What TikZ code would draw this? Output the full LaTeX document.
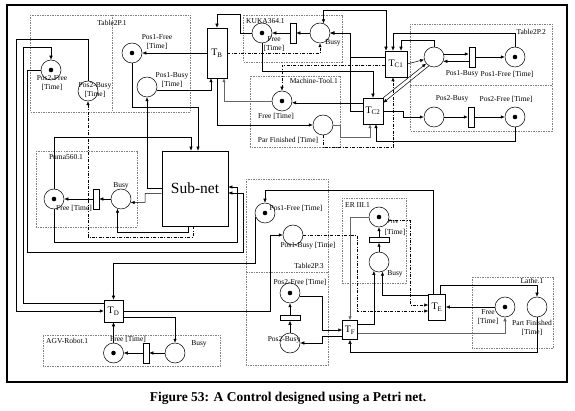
\documentclass[tikz,border=0pt]{standalone}
\usepackage{fontspec}
\setmainfont{Liberation Serif}
\usetikzlibrary{arrows.meta,calc}
\newlength{\du}
\setlength{\du}{1pt}
\tikzset{
  >={Latex[length=4pt,width=3.4pt]},
  place/.style={circle,draw,line width=0.5pt,minimum size=20pt,inner sep=0pt},
  marked/.style={place,path picture={\fill (path picture bounding box.center) circle (2.3pt);}},
  trans/.style={draw,fill=white,line width=0.5pt,inner sep=0pt,font=\fontsize{10}{10}\selectfont},
  vbar/.style={draw,fill=white,line width=0.5pt,minimum width=6pt,minimum height=20pt,inner sep=0pt},
  hbar/.style={draw,fill=white,line width=0.5pt,minimum width=20pt,minimum height=5pt,inner sep=0pt},
  module/.style={draw=black!50,line width=0.4pt,dash pattern=on 1.5pt off 1pt},
  lbl/.style={font=\fontsize{7.5}{9}\selectfont,inner sep=0pt,align=center},
  arc/.style={->,line width=0.5pt},
  arcboth/.style={<->,line width=0.5pt},
  arcgr/.style={arc,draw=black!60},
  arcdd/.style={->,line width=0.5pt,dash pattern=on 3pt off 1.5pt on 0.8pt off 1.5pt}
}

\begin{document}
\begin{tikzpicture}
\pgftransformxscale{1.000000}
\pgftransformyscale{-1.000000}
\useasboundingbox (0\du,0\du) rectangle (575\du,411\du);
\draw[line width=1.6pt] (7\du,5\du) rectangle (567\du,382\du);

% modules
\draw[module] (30\du,15\du) rectangle (190\du,112\du);
\draw[module] (112\du,15\du) -- (112\du,112\du);
\draw[module] (243\du,15\du) rectangle (342\du,62\du);
\draw[module] (250\du,76\du) rectangle (340\du,147\du);
\draw[module] (410\du,24\du) rectangle (552\du,131\du);
\draw[module] (410\du,85\du) -- (552\du,85\du);
\draw[module] (36\du,151\du) rectangle (137\du,227\du);
\draw[module] (246\du,179\du) rectangle (328\du,365\du);
\draw[module] (246\du,272\du) -- (328\du,272\du);
\draw[module] (342\du,198\du) rectangle (406\du,283\du);
\draw[module] (472\du,277\du) rectangle (553\du,348\du);
\draw[module] (43\du,335\du) rectangle (220\du,366\du);

\node[lbl] (mTabA) at (112\du,23\du) {Table2P.1};
\node[lbl,anchor=west] (mKuka) at (246\du,21\du) {KUKA364.1};
\node[lbl,anchor=east] (mTool) at (338\du,81\du) {Machine-Tool.1};
\node[lbl,anchor=east] (mTabB) at (546\du,32\du) {Table2P.2};
\node[lbl] (mPuma) at (66\du,157\du) {Puma560.1};
\node[lbl] (mTabC) at (309\du,266\du) {Table2P.3};
\node[lbl,anchor=west] (mEr) at (345\du,205\du) {ER III.1};
\node[lbl] (mLathe) at (532\du,281\du) {Lathe.1};
\node[lbl,anchor=west] (mAgv) at (46\du,341\du) {AGV-Robot.1};

% places and transitions
\node[marked] (t1p2f) at (51\du,70\du) {};
\node[place] (t1p2b) at (88\du,91\du) {};
\node[marked] (t1p1f) at (132\du,53\du) {};
\node[place] (t1p1b) at (147\du,87\du) {};

\node[marked] (kukaF) at (262\du,33\du) {};
\node[vbar] (kukaBar) at (293\du,33\du) {};
\node[place] (kukaB) at (320\du,33\du) {};

\node[marked] (mtF) at (282\du,101\du) {};
\node[place] (mtP) at (323\du,125\du) {};

\node[place] (t2p1b) at (434\du,57\du) {};
\node[vbar] (t2bar1) at (472\du,57\du) {};
\node[marked] (t2p1f) at (515\du,57\du) {};
\node[place] (t2p2b) at (434\du,117\du) {};
\node[vbar] (t2bar2) at (471\du,117\du) {};
\node[marked] (t2p2f) at (515\du,117\du) {};

\node[marked] (pumaF) at (54\du,199\du) {};
\node[vbar] (pumaBar) at (96\du,199\du) {};
\node[place] (pumaB) at (121\du,199\du) {};

\node[marked] (t3p1f) at (265\du,213\du) {};
\node[place] (t3p1b) at (293\du,235\du) {};
\node[marked] (t3p2f) at (290\du,293\du) {};
\node[hbar] (t3bar) at (290\du,318\du) {};
\node[place] (t3p2b) at (290\du,343\du) {};

\node[marked] (erF) at (379\du,217\du) {};
\node[hbar] (erBar) at (379\du,240\du) {};
\node[place] (erB) at (379\du,262\du) {};

\node[marked] (laF) at (505\du,307\du) {};
\node[place] (laP) at (537\du,307\du) {};

\node[marked] (agvF) at (113.5\du,353\du) {};
\node[vbar] (agvBar) at (146\du,353\du) {};
\node[place] (agvB) at (175\du,353\du) {};

\node[trans,minimum width=20pt,minimum height=50pt] (tB) at (217\du,53\du) {T\textsubscript{B}};
\node[trans,minimum width=22pt,minimum height=26pt] (tCa) at (396\du,64\du) {T\textsubscript{C1}};
\node[trans,minimum width=20pt,minimum height=26pt] (tCb) at (373\du,111\du) {T\textsubscript{C2}};
\node[trans,minimum width=19pt,minimum height=22pt] (tD) at (113.5\du,311\du) {T\textsubscript{D}};
\node[trans,minimum width=17pt,minimum height=26pt] (tE) at (437\du,307\du) {T\textsubscript{E}};
\node[trans,minimum width=15pt,minimum height=19pt] (tF) at (350\du,330\du) {T\textsubscript{F}};
\node[draw,line width=0.6pt,minimum width=66pt,minimum height=75pt,font=\fontsize{15.5}{16}\selectfont] (subnet) at (195\du,188.5\du) {Sub-net};

% place labels
\node[lbl] (t1p2fL) at (52\du,83.5\du) {Pos2-Free\\{}[Time]};
\node[lbl] (t1p2bL) at (95\du,90\du) {Pos2-Busy\\{}[Time]};
\node[lbl] (t1p1fL) at (157\du,42.5\du) {Pos1-Free\\{}[Time]};
\node[lbl] (t1p1bL) at (172\du,80\du) {Pos1-Busy\\{}[Time]};
\node[lbl] (kukaFL) at (274\du,44.5\du) {Free\\{}[Time]};
\node[lbl] (kukaBL) at (333\du,43\du) {Busy};
\node[lbl] (mtFL) at (276\du,116\du) {Free [Time]};
\node[lbl] (mtPL) at (288\du,140\du) {Par Finished [Time]};
\node[lbl] (t2p1bL) at (462\du,74\du) {Pos1-Busy};
\node[lbl] (t2p1fL) at (507\du,74\du) {Pos1-Free [Time]};
\node[lbl] (t2p2bL) at (452\du,99\du) {Pos2-Busy};
\node[lbl] (t2p2fL) at (506\du,99\du) {Pos2-Free [Time]};
\node[lbl] (pumaFL) at (74\du,208\du) {Free [Time]};
\node[lbl] (pumaBL) at (121\du,186\du) {Busy};
\node[lbl] (t3p1fL) at (296\du,208\du) {Pos1-Free [Time]};
\node[lbl] (t3p1bL) at (308\du,246\du) {Pos1-Busy [Time]};
\node[lbl] (t3p2fL) at (300\du,282\du) {Pos2-Free [Time]};
\node[lbl] (t3p2bL) at (284\du,340\du) {Pos2-Busy};
\node[lbl,font=\fontsize{6}{9}\selectfont\itshape] (erFL) at (393\du,222\du) {Free};
\node[lbl] (erTL) at (395\du,232\du) {[Time]};
\node[lbl] (erBL) at (395\du,274\du) {Busy};
\node[lbl] (laFL) at (488\du,317.5\du) {Free\\{}[Time]};
\node[lbl] (laPL) at (532\du,327.5\du) {Part Finished\\{}[Time]};
\node[lbl] (agvFL) at (128\du,339\du) {Free [Time]};
\node[lbl] (agvBL) at (199\du,344\du) {Busy};

% arcs
\draw[arc] (tB) -- (t1p1f);
\draw[arc] (t1p1f.south) |- (198\du,107\du) -- ($(subnet.north)+(3\du,0)$);
\draw[arc] (pumaF.north) |- (191\du,137\du) -- ($(subnet.north)+(-4\du,0)$);
\draw[arc] (subnet.west) -| (t1p1b.south);
\draw[arc] ($(subnet.west)+(0,5\du)$) -| (145\du,202.4\du) -- (pumaB.-20);
\draw[arc] ($(subnet.south)+(-7\du,0)$) -- (188\du,232\du) -| (pumaB.250);
\draw[arcdd] ($(subnet.south)+(-2\du,0)$) -- (193\du,237\du) -| (t1p2b.south);
\draw[arc] (pumaB) -- (pumaBar);
\draw[arc] (pumaBar) -- (pumaF);
\draw[arc] (t1p2b.north) |- (16\du,39\du) |- (tD.west);
\draw[arc] ($(tD.west)+(0,-8\du)$) -| (23\du,47\du) -| (t1p2f.north);
\draw[arc] (t1p2f.west) -| (27\du,252\du) -| (243\du,193\du) -- ($(subnet.east)+(0,4.5\du)$);
\draw[arc] (pumaF.south) |- (237\du,242\du) |- ($(subnet.east)+(0,-1.5\du)$);
\draw[arc] (t3p1f.200) |- (113.5\du,263\du) -- (tD.north);
\draw[arc] (tD.east) -| (270\du,235\du) -- (t3p1b.west);
\draw[arc] ($(tD.east)+(0,6\du)$) -| (agvB.north);
\draw[arc] (agvF) -- (tD);
\draw[arc] (agvB) -- (agvBar);
\draw[arc] (agvBar) -- (agvF);

\draw[arc] (t1p1b.-18) -| ($(tB.south)+(-6\du,0)$);
\draw[arcgr] (mtF.west) -| ($(tB.south)+(7\du,0)$);
\draw[arc] (tB.south) |- (mtP.west);
\draw[arc] (kukaF.west) -| (240\du,14\du) -| (tB.north);
\draw[arc] (kukaF.south) |- (373\du,71\du) -- (tCb.north);
\draw[arcdd] (tB.east) -| (kukaB.south);
\draw[arc] (kukaB) -- (kukaBar);
\draw[arc] (kukaBar) -- (kukaF);
\draw[arc] (tCb.west) -| (350\du,33\du) -- (kukaB.east);
\draw[arc] ($(tCa.west)+(0,-7\du)$) -| (350\du,33\du) -- (kukaB.east);
\draw[arcboth] (kukaB.70) |- (386\du,10\du) -- ($(tCa.north)+(-10\du,0)$);
\draw[arc] (t2p1f.north) |- (393\du,33\du) -- ($(tCa.north)+(-3\du,0)$);
\draw[arc] (t2p1b.north) |- (401\du,40\du) -- ($(tCa.north)+(5\du,0)$);
\draw[arc] (tCa.east) -- (t2p1b);
\draw[arc] (t2p1b.17) -- (t2bar1.west |- t2p1b.17);
\draw[arc] (t2bar1.west |- t2p1b.-25) -- (t2p1b.-25);
\draw[arc] (t2bar1) -- (t2p1f);
\draw[arc] (tCb.north east) -- (t2p1b.220);
\draw[arc] (t2p1b.240) -- ($(tCb.north east)+(0,5\du)$);
\draw[arc] (tCb.east) -| (403\du,117\du) -- (t2p2b.west);
\draw[arc] (t2p2b) -- (t2bar2);
\draw[arc] (t2bar2) -- (t2p2f);
\draw[arc] (t2p2f.south) |- (376\du,141\du) -- ($(tCb.south)+(3\du,0)$);
\draw[arcgr] (mtP.east) -| (340\du,137\du) -| ($(tCb.south)+(-3\du,0)$);
\draw[arc] (tCb.west |- mtF.-10) -- (mtF.-10);
\draw[arcdd] ($(tCa.west)+(0,1\du)$) -| (mtF.north);
\draw[arcdd] (mtP.south) |- (393\du,147\du) -- ($(tCa.south)+(-3\du,0)$);

\draw[arc] ($(tE.north)+(-4\du,0)$) |- (265\du,190\du) -- (t3p1f.north);
\draw[arcdd] (t3p1b.east) -| (357\du,311\du) -- ($(tE.west)+(0,4\du)$);
\draw[arcdd] (erF.-20) -| (410\du,305\du) -- ($(tE.west)+(0,-2\du)$);
\draw[arc] (t3p2f.-20) -| (322\du,330\du) -- (tF.west);
\draw[arc] ($(tF.west)+(0,6\du)$) -| (322\du,343\du) -- (t3p2b.east);
\draw[arc] (t3p2b) -- (t3bar);
\draw[arc] (t3bar) -- (t3p2f);
\draw[arc] (erB) -- (erBar);
\draw[arc] (erBar) -- (erF);
\draw[arcgr] (erF.west) -| (tF.north);
\draw[arc] ($(tF.east)+(0,-6\du)$) -| (erB.240);
\draw[arc] ($(tE.north west)+(0,2\du)$) -| (erB.290);
\draw[arc] ($(tE.north)+(3\du,0)$) |- (537\du,285\du) -- (laP.north);
\draw[arc] (laF) -- (tE);
\draw[arcgr] ($(tF.east)+(0,3\du)$) -| (laF.south);
\draw[arc] (laP.south) |- (350\du,352\du) -- (tF.south);

\node[font=\bfseries\fontsize{13.5}{14}\selectfont] (caption) at (288\du,398\du) {Figure 53: A Control designed using a Petri net.};
\end{tikzpicture}
\end{document}
